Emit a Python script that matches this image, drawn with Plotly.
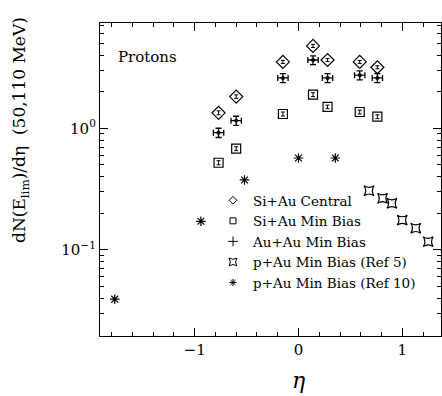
import plotly.graph_objects as go

# ---- data ----
eta_aa = [-0.77, -0.60, -0.15, 0.14, 0.28, 0.59, 0.76]
siau_central = [1.34, 1.82, 3.51, 4.75, 3.64, 3.51, 3.17]
siau_central_err = [0.05, 0.06, 0.10, 0.14, 0.10, 0.10, 0.09]
siau_minbias = [0.521, 0.680, 1.31, 1.89, 1.50, 1.36, 1.245]
siau_minbias_err = [0.02, 0.025, 0.05, 0.07, 0.05, 0.05, 0.045]
auau_minbias = [0.92, 1.155, 2.59, 3.64, 2.59, 2.73, 2.59]
auau_minbias_err = [0.08, 0.10, 0.22, 0.30, 0.22, 0.23, 0.22]
auau_eta_err = [0.05, 0.05, 0.05, 0.05, 0.05, 0.05, 0.05]

eta_ref5 = [0.68, 0.81, 0.90, 1.00, 1.13, 1.25]
pau_ref5 = [0.307, 0.266, 0.242, 0.176, 0.151, 0.117]

eta_ref10 = [-1.77, -0.94, -0.52, 0.00, 0.355]
pau_ref10 = [0.0394, 0.172, 0.376, 0.570, 0.570]

series_names = ["Si+Au Central", "Si+Au Min Bias", "Au+Au Min Bias",
                "p+Au Min Bias (Ref 5)", "p+Au Min Bias (Ref 10)"]

x_ticks = [-1, 0, 1]
x_ticktext = ["\u22121", "0", "1"]
y_ticks = [0.1, 1]
y_ticktext = ["10<sup>\u22121</sup>", "10<sup>0</sup>"]

SERIF = "DejaVu Serif"
W, H = 442, 396
ML, MR, MT, MB = 100, 1, 23, 60

symbols = ["diamond-open", "square-open", "circle", "star-square-open", "asterisk-open"]
sizes = [10, 9, 4, 9, 8]
legend_symbols = ["diamond-open", "square-open", "cross-thin-open", "star-square-open", "asterisk-open"]
legend_sizes = [6, 6, 7, 7, 6]

fig = go.Figure()

fig.add_trace(go.Scatter(
    x=eta_aa, y=siau_central, mode="markers", name=series_names[0], showlegend=False,
    marker=dict(symbol=symbols[0], size=sizes[0], color="black", line=dict(width=1.2)),
    error_y=dict(type="data", array=siau_central_err, color="black", thickness=1, width=2),
))
fig.add_trace(go.Scatter(
    x=eta_aa, y=siau_minbias, mode="markers", name=series_names[1], showlegend=False,
    marker=dict(symbol=symbols[1], size=sizes[1], color="black", line=dict(width=1.2)),
    error_y=dict(type="data", array=siau_minbias_err, color="black", thickness=1, width=2),
))
fig.add_trace(go.Scatter(
    x=eta_aa, y=auau_minbias, mode="markers", name=series_names[2], showlegend=False,
    marker=dict(symbol=symbols[2], size=sizes[2], color="black"),
    error_y=dict(type="data", array=auau_minbias_err, color="black", thickness=1.3, width=3),
    error_x=dict(type="data", array=auau_eta_err, color="black", thickness=1.3, width=3),
))
fig.add_trace(go.Scatter(
    x=eta_ref5, y=pau_ref5, mode="markers", name=series_names[3], showlegend=False,
    marker=dict(symbol=symbols[3], size=sizes[3], color="black", line=dict(width=1.2)),
))
fig.add_trace(go.Scatter(
    x=eta_ref10, y=pau_ref10, mode="markers", name=series_names[4], showlegend=False,
    marker=dict(symbol=symbols[4], size=sizes[4], color="black", line=dict(width=1.2)),
))

# legend-only entries (small symbols, as in the reference key)
for name, sym, sz in zip(series_names, legend_symbols, legend_sizes):
    fig.add_trace(go.Scatter(
        x=[None], y=[None], mode="markers", name=name, showlegend=True,
        marker=dict(symbol=sym, size=sz, color="black", line=dict(width=1, color="black")),
    ))

minor_x = [round(-1.8 + 0.2 * i, 1) for i in range(17)]
minor_y = [m * 10 ** e for e in (-2, -1, 0) for m in range(2, 10)]

fig.update_xaxes(
    range=[-1.912, 1.373], showline=True, linecolor="black", linewidth=1.3, mirror="ticks",
    ticks="inside", ticklen=8, tickwidth=1, tickcolor="black",
    tickvals=x_ticks, ticktext=x_ticktext, showgrid=False, zeroline=False,
    tickfont=dict(family=SERIF, size=15, color="black"),
    minor=dict(tickvals=minor_x, ticks="inside", ticklen=4, tickcolor="black", showgrid=False),
)
fig.update_yaxes(
    type="log", range=[-1.707, 0.865], showline=True, linecolor="black", linewidth=1.3, mirror="ticks",
    ticks="inside", ticklen=8, tickwidth=1, tickcolor="black",
    tickvals=y_ticks, ticktext=y_ticktext, showgrid=False, zeroline=False,
    tickfont=dict(family=SERIF, size=15, color="black"),
    minor=dict(tickvals=minor_y, ticks="inside", ticklen=4, tickcolor="black", showgrid=False),
)

pw = W - ML - MR
ph = H - MT - MB

def px(xpix):
    return (xpix - ML) / pw

def py(ypix):
    return (H - MB - ypix) / ph

fig.update_layout(
    width=W, height=H,
    margin=dict(l=ML, r=MR, t=MT, b=MB),
    plot_bgcolor="white", paper_bgcolor="white",
    font=dict(family=SERIF, color="black"),
    legend=dict(
        x=px(213), y=py(185), xanchor="left", yanchor="top",
        bgcolor="rgba(0,0,0,0)", borderwidth=0,
        font=dict(family=SERIF, size=13.5, color="black"),
        tracegroupgap=0, itemwidth=30,
    ),
    showlegend=True,
    annotations=[
        dict(text="Protons", x=px(116), y=py(57), xref="paper", yref="paper",
             xanchor="left", yanchor="middle", showarrow=False,
             font=dict(family=SERIF, size=15, color="black")),
        dict(text="dN(E<sub>lim</sub>)/d\u03b7  (50,110 MeV)", x=px(20), y=py(130),
             xref="paper", yref="paper", xanchor="center", yanchor="middle",
             textangle=-90, showarrow=False,
             font=dict(family=SERIF, size=17, color="black")),
        dict(text="<i>\u03b7</i>", x=px(298), y=py(380), xref="paper", yref="paper",
             xanchor="center", yanchor="middle", showarrow=False,
             font=dict(family=SERIF, size=22, color="black")),
    ],
)

fig.write_html("out.html")
